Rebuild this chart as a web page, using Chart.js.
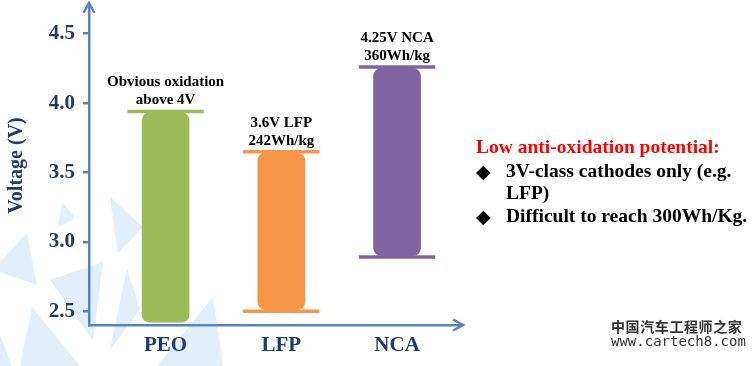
<!DOCTYPE html>
<html>
<head>
<meta charset="utf-8">
<script src="https://cdn.jsdelivr.net/npm/chart.js@4.4.1/dist/chart.umd.min.js"></script>
<style>
  html, body { margin: 0; padding: 0; background: #fff; }
  #wrap { position: relative; width: 756px; height: 366px; overflow: hidden; }
  #chart { position: absolute; left: 0; top: 0; }
  .side { position: absolute; font-family: 'Liberation Serif', 'Times New Roman', serif; font-weight: bold; white-space: nowrap; font-size: 19.5px; line-height: 22px; }
  .side.red { color: #ff0000; }
  .side.blk { color: #000; }
  .bullet { position: absolute; font-family: 'DejaVu Sans', sans-serif; font-size: 19px; line-height: 22px; color: #000; }
  .wm { position: absolute; white-space: nowrap; color: #333; }
</style>
</head>
<body>
<div id="wrap">
  <canvas id="chart" width="756" height="366"></canvas>

  <div class="side red" style="left:476px; top:136px;">Low anti-oxidation potential:</div>
  <div class="bullet" style="left:476px; top:160px;">◆</div>
  <div class="side blk" style="left:506px; top:160px;">3V-class cathodes only (e.g.</div>
  <div class="side blk" style="left:506px; top:182px;">LFP)</div>
  <div class="bullet" style="left:476px; top:205px;">◆</div>
  <div class="side blk" style="left:506px; top:205px;">Difficult to reach 300Wh/Kg.</div>

  <div class="wm" style="left:611px; top:316px; font-family:'Noto Sans CJK SC', sans-serif; font-weight:bold; font-size:14px; letter-spacing:0.6px;">中国汽车工程师之家</div>
  <div class="wm" style="left:611px; top:333px; font-family:'DejaVu Sans Mono', monospace; font-size:14px;">www.cartech8.com</div>
</div>

<script>
// --- data ---
const categories = ['PEO', 'LFP', 'NCA'];
const barLow     = [2.42, 2.51, 2.90];
const barHigh    = [3.93, 3.64, 4.25];
const capTop     = [3.94, 3.65, 4.26];
const capBottom  = [null, 2.50, 2.89];
const noteLines  = [
    ['Obvious oxidation', 'above 4V'],
    ['3.6V LFP', '242Wh/kg'],
    ['4.25V NCA', '360Wh/kg']
];
const yTickValues = [2.5, 3.0, 3.5, 4.0, 4.5];

// --- styles ---
const barColors = ['#9bbb59', '#f79646', '#8064a2'];
const axisBlue = '#5584c4';
const navy = '#1f3a6e';
const capHalf = 0.33;
const serif = '"Liberation Serif", "Times New Roman", serif';

// pale background decoration (watermark triangles)
const bgShapes = [
    [[62,202],[75,218],[58,227]],
    [[0,262],[27,233],[37,285],[0,272]],
    [[50,280],[103,262],[93,340]],
    [[110,197],[143,227],[118,253]],
    [[32,307],[80,366],[20,366]],
    [[127,268],[140,310],[110,350]],
    [[213,297],[223,366],[157,366]],
    [[0,335],[12,366],[0,366]]
];

const bgPlugin = {
    id: 'bgShapes',
    beforeDraw(chart) {
        const ctx = chart.ctx;
        ctx.save();
        ctx.fillStyle = '#e2eef8';
        bgShapes.forEach(pts => {
            ctx.beginPath();
            pts.forEach((p, k) => k ? ctx.lineTo(p[0], p[1]) : ctx.moveTo(p[0], p[1]));
            ctx.closePath();
            ctx.fill();
        });
        ctx.restore();
    }
};

// arrows on axes + notes above the bars
const decoPlugin = {
    id: 'deco',
    afterDraw(chart) {
        const ctx = chart.ctx;
        const a = chart.chartArea;
        const xs = chart.scales.x, ys = chart.scales.y;
        ctx.save();
        ctx.strokeStyle = axisBlue;
        ctx.lineWidth = 2.5;
        ctx.lineCap = 'round';
        // up arrow
        ctx.beginPath();
        ctx.moveTo(a.left, a.top + 2); ctx.lineTo(a.left, a.top - 3);
        ctx.moveTo(a.left - 5, a.top + 6); ctx.lineTo(a.left, a.top - 3); ctx.lineTo(a.left + 5, a.top + 6);
        ctx.stroke();
        // right arrow
        ctx.beginPath();
        ctx.moveTo(a.right - 8, a.bottom - 5); ctx.lineTo(a.right + 1, a.bottom); ctx.lineTo(a.right - 8, a.bottom + 5);
        ctx.stroke();

        ctx.fillStyle = '#000';
        ctx.font = 'bold 15px ' + serif;
        ctx.textAlign = 'center';
        ctx.textBaseline = 'middle';
        categories.forEach((c, i) => {
            const x = xs.getPixelForValue(i);
            const y = ys.getPixelForValue(capTop[i]);
            ctx.fillText(noteLines[i][0], x, y - 29);
            ctx.fillText(noteLines[i][1], x, y - 11);
        });
        ctx.restore();
    }
};

const capSets = [];
categories.forEach((c, i) => {
    [capTop[i], capBottom[i]].forEach(v => {
        if (v == null) return;
        capSets.push({
            type: 'line',
            data: [{ x: i - capHalf, y: v }, { x: i + capHalf, y: v }],
            borderColor: barColors[i],
            borderWidth: 3.5,
            borderCapStyle: 'butt',
            pointRadius: 0,
            tension: 0,
            order: 0
        });
    });
});

new Chart(document.getElementById('chart'), {
    type: 'bar',
    data: {
        datasets: [{
            type: 'bar',
            data: categories.map((c, i) => ({ x: i, y: [barLow[i], barHigh[i]] })),
            backgroundColor: barColors,
            borderWidth: 0,
            borderRadius: 8,
            borderSkipped: false,
            barThickness: 47,
            order: 1
        }, ...capSets]
    },
    options: {
        responsive: false,
        animation: false,
        layout: { padding: { top: 6, right: 294, left: 0, bottom: 0 } },
        plugins: { legend: { display: false }, tooltip: { enabled: false } },
        scales: {
            x: {
                type: 'linear',
                offset: false,
                min: -0.662, max: 2.561,
                afterBuildTicks(s) { s.ticks = categories.map((c, i) => ({ value: i })); },
                afterFit(s) { s.height = 41; s.paddingLeft = 0; s.paddingRight = 0; },
                grid: { display: false },
                border: { display: true, color: axisBlue, width: 2.5 },
                ticks: {
                    callback: v => categories[v],
                    color: navy,
                    padding: 0,
                    maxRotation: 0,
                    font: { family: serif, weight: 'bold', size: 21 }
                }
            },
            y: {
                min: 2.4, max: 4.7,
                afterBuildTicks(s) { s.ticks = yTickValues.map(v => ({ value: v })); },
                afterFit(s) { s.width = 89; s.paddingTop = 0; s.paddingBottom = 0; },
                grid: { drawOnChartArea: false, drawTicks: true, tickLength: 6, color: axisBlue, lineWidth: 2.5 },
                border: { display: true, color: axisBlue, width: 2.5 },
                ticks: {
                    callback: v => v.toFixed(1),
                    color: navy,
                    padding: 8,
                    font: { family: serif, weight: 'bold', size: 21 }
                },
                title: {
                    display: true,
                    text: 'Voltage (V)',
                    color: navy,
                    padding: { top: 5, bottom: 0 },
                    font: { family: serif, weight: 'bold', size: 20 }
                }
            }
        }
    },
    plugins: [bgPlugin, decoPlugin]
});
</script>
</body>
</html>
